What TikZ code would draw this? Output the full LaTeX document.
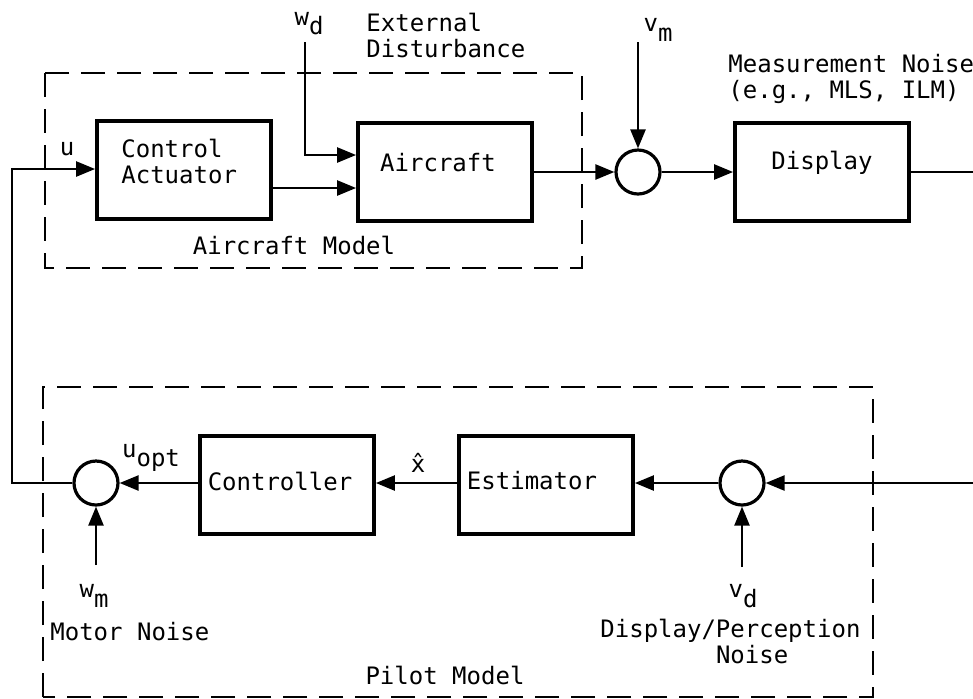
\documentclass[tikz,border=0pt]{standalone}
\usepackage{fontspec}
\setmainfont{DejaVu Sans Mono}
\usetikzlibrary{arrows.meta,calc}
\newcommand{\sbs}[1]{\raisebox{-0.7ex}{#1}}
\begin{document}
\begin{tikzpicture}[x=0.5pt,y=-0.5pt,
  every node/.style={font=\fontsize{12}{13}\selectfont, inner sep=0pt},
  blk/.style={draw, line width=1.9pt, minimum width=87pt, minimum height=49pt},
  sumj/.style={draw, circle, line width=1.6pt, minimum size=22pt},
  frame/.style={draw, line width=1.1pt, dash pattern=on 12pt off 6pt},
  arr/.style={line width=1.2pt, -{Triangle[length=9.5pt,width=7.5pt]}},
  ln/.style={line width=1.2pt}]
\useasboundingbox (0,0) rectangle (973,698);
% dashed model frames
\draw[frame] (45,73) rectangle (582,268);
\draw[frame] (43,697) -- (43,387) -- (873,387) -- (873,697) -- cycle;
% blocks
\node[blk] (CA) at (184,170) {};
\node[blk] (AC) at (445,172) {};
\node[blk] (DI) at (822,172) {};
\node[blk] (CO) at (287,485) {};
\node[blk] (ES) at (546,485) {};
\node[sumj] (S1) at (638,172) {};
\node[sumj] (S2) at (96,483) {};
\node[sumj] (S3) at (742,483) {};
% block texts
\node[anchor=west, align=left] (CAt) at (121,161) {Control\\Actuator};
\node (ACt) at (438,163) {Aircraft};
\node (DIt) at (822,163) {Display};
\node (COt) at (280,481) {Controller};
\node (ESt) at (532,481) {Estimator};
% labels
\node (wd) at (309,24) {w\sbs{d}};
\node[anchor=west, align=left] (ext) at (366,35) {External\\Disturbance};
\node (vm) at (658,30) {v\sbs{m}};
\node[anchor=west, align=left] (mn) at (728,79) {Measurement Noise\\(e.g., MLS, ILM)};
\node (u) at (67,149) {u};
\node (acm) at (294,245) {Aircraft Model};
\node (uopt) at (151,458) {u\sbs{opt}};
\node (xh) at (418,463) {\^{x}};
\node (wm) at (94,596) {w\sbs{m}};
\node[anchor=west] (mot) at (50,632) {Motor Noise};
\node (vd) at (743,596) {v\sbs{d}};
\node[anchor=west, align=left] (dpn) at (600,641) {Display/Perception\\\phantom{xxxxxxxx}Noise};
\node (pm) at (445,675) {Pilot Model};
% coordinates
\coordinate (lc) at (12,169);
\coordinate (wdtop) at (305,42);
\coordinate (vmtop) at (638,42);
\coordinate (rt) at (973,172);
\coordinate (rb) at (973,483);
\coordinate (wmb) at (96,565);
\coordinate (vdb) at (742,567);
% connectors
\draw[arr] (S2.west) -| (lc) -- (CA.west |- lc);
\draw[arr] ([yshift=-9pt]CA.east) -- ([yshift=-9pt]CA.east -| AC.west);
\draw[arr] (wdtop) |- ([yshift=8.5pt]AC.west);
\draw[arr] (AC.east) -- (S1.west);
\draw[arr] (vmtop) -- (S1.north);
\draw[arr] (S1.east) -- (DI.west);
\draw[ln] (DI.east) -- (rt);
\draw[arr] (rb) -- (S3.east);
\draw[arr] (S3.west) -- (ES.east |- S3.west);
\draw[arr] (ES.west |- S3.west) -- (CO.east |- S3.west);
\draw[arr] (CO.west |- S2.east) -- (S2.east);
\draw[arr] (wmb) -- (S2.south);
\draw[arr] (vdb) -- (S3.south);
\end{tikzpicture}
\end{document}
